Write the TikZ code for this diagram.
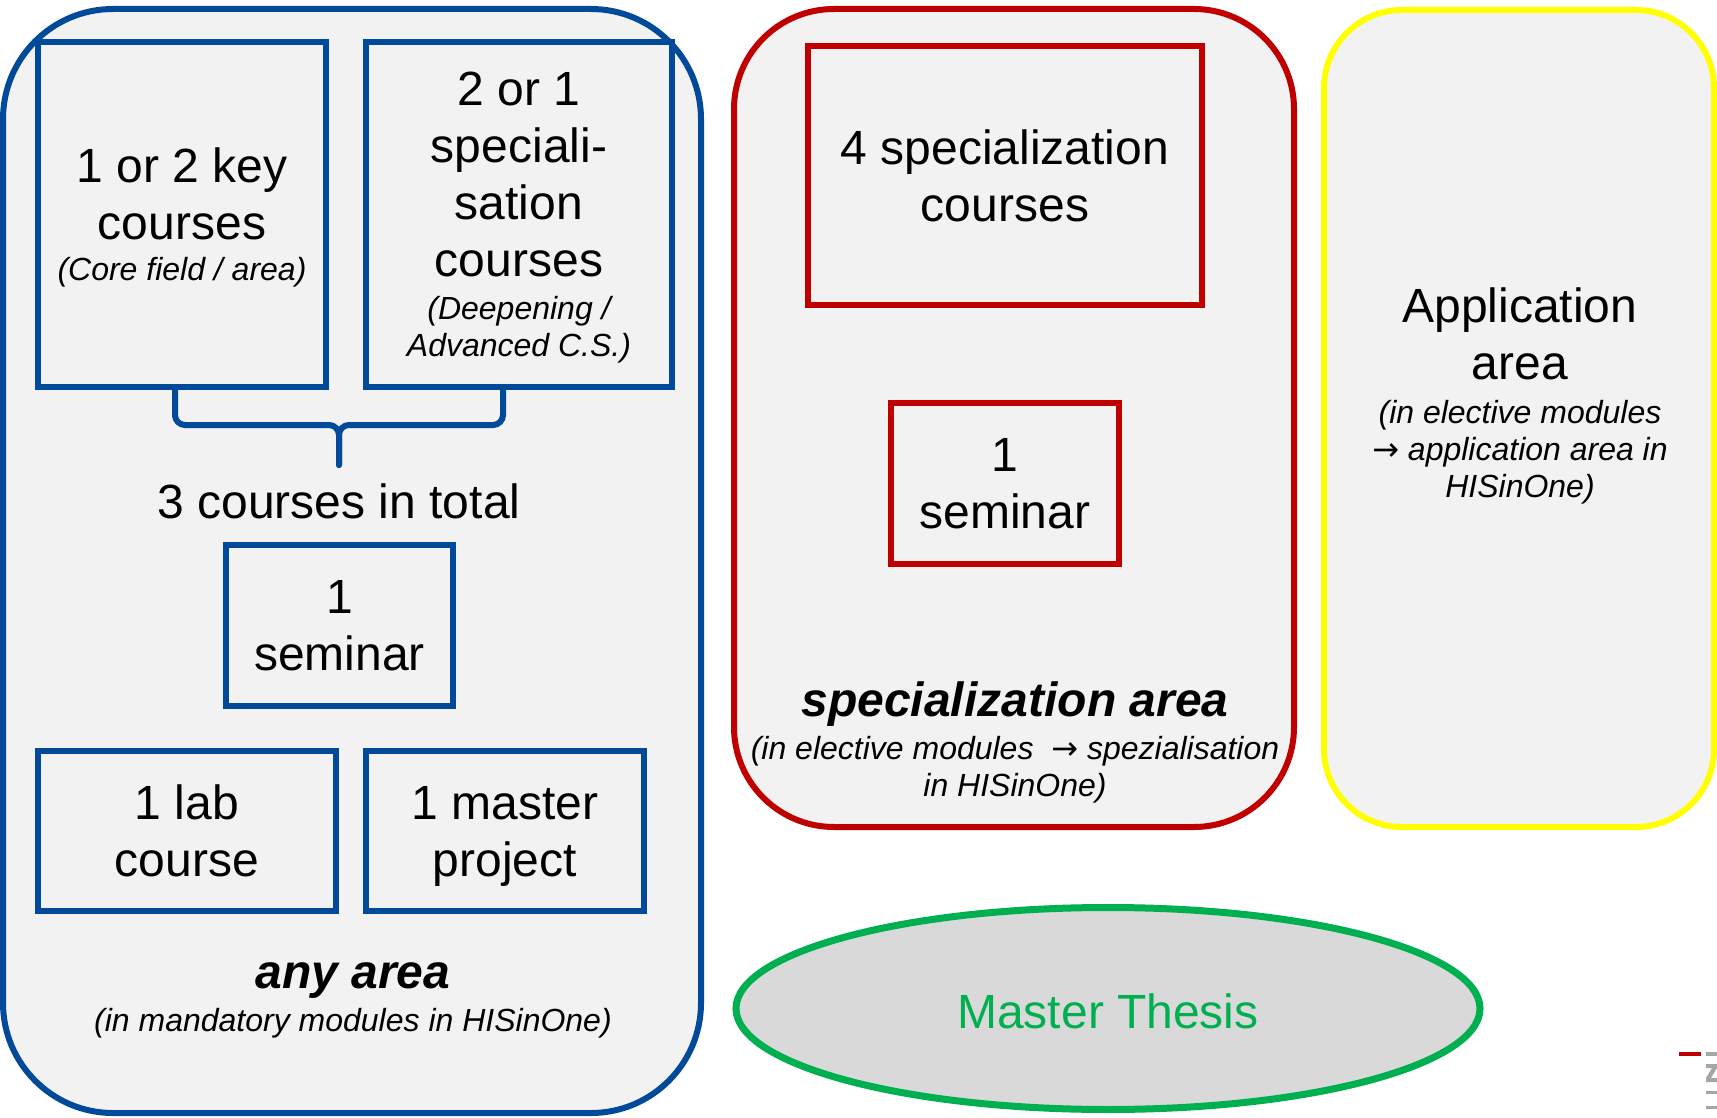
\documentclass[tikz,border=0pt]{standalone}
\usepackage{fontspec}
\setmainfont{Liberation Sans}
\newfontfamily\arrowfont{DejaVu Sans}
\usetikzlibrary{shapes.geometric}
\definecolor{uniblue}{HTML}{004A99}
\definecolor{unired}{HTML}{C00000}
\definecolor{uniyellow}{HTML}{FFFF00}
\definecolor{unigreen}{HTML}{00B050}
\definecolor{boxfill}{HTML}{F2F2F2}
\definecolor{thesisfill}{HTML}{D9D9D9}
\definecolor{logogray}{HTML}{A6A6A6}
\newcommand{\txtbig}{\fontsize{48}{57}\selectfont}
\newcommand{\txtsmall}{\fontsize{32}{37}\selectfont\itshape}
\newcommand{\txtbold}{\fontsize{48}{57}\selectfont\bfseries\itshape}
\newcommand{\arr}{{\arrowfont →}}
\begin{document}
\begin{tikzpicture}[x=1pt,y=-1pt,
  every node/.style={inner sep=0pt, outer sep=0pt},
  areabox/.style={draw, line width=6pt, fill=boxfill, rectangle},
  coursebox/.style={draw, line width=6pt, fill=boxfill, rectangle, align=center, font=\txtbig},
  bluebox/.style={coursebox, draw=uniblue},
  redbox/.style={coursebox, draw=unired},
  label/.style={align=center, font=\txtsmall},
  bracestyle/.style={draw=uniblue, line width=6pt, rounded corners=10pt, line cap=round}
]
\useasboundingbox (0,0) rectangle (1717,1118);

% area frames
\node[areabox, draw=uniblue, rounded corners=110pt, minimum width=698pt, minimum height=1104pt] (anyframe) at (352,561) {};
\node[areabox, draw=unired, rounded corners=100pt, minimum width=560pt, minimum height=818pt] (specframe) at (1014,418) {};
\node[areabox, draw=uniyellow, rounded corners=78pt, minimum width=390pt, minimum height=817pt] (appframe) at (1519,418.5) {};

% any area
\node[bluebox, minimum width=288pt, minimum height=345pt, text depth=-12.5pt] (key) at (182,214.5)
  {1 or 2 key\\courses\\[-16pt]\txtsmall (Core field / area)};
\node[bluebox, minimum width=306pt, minimum height=345pt, text depth=-6pt] (deep) at (519,214.5)
  {2 or 1\\speciali-\\sation\\courses\\[-14pt]\txtsmall (Deepening /\\[-20pt]\txtsmall Advanced C.S.)};
\coordinate (bj) at (339,425);
\coordinate (btip) at (339,465);
\draw[bracestyle] ([xshift=-7pt]key.south) |- (bj) -- (btip);
\draw[bracestyle] ([xshift=-16pt]deep.south) |- (bj) -- (btip);
\node[font=\txtbig] (total) at (339,501) {3 courses in total};
\node[bluebox, minimum width=227pt, minimum height=161pt, text depth=-4.5pt] (sem1) at (339.5,625.5) {1\\seminar};
\node[bluebox, minimum width=298pt, minimum height=160pt, text depth=-4.5pt] (lab) at (187,831) {1 lab\\course};
\node[bluebox, minimum width=278pt, minimum height=160pt, text depth=-4.5pt] (proj) at (505,831) {1 master\\project};
\node[label] (anylabel) at (353,1000.5)
  {{\txtbold any area}\\[6.5pt](in mandatory modules in HISinOne)};

% specialization area
\node[redbox, minimum width=394pt, minimum height=259pt] (spec4) at (1005,175.5) {4 specialization\\courses};
\node[redbox, minimum width=228pt, minimum height=161pt, text depth=-4.5pt] (sem2) at (1005,483.5) {1\\seminar};
\node[label] (speclabel) at (1015,742.5)
  {{\txtbold specialization area}\\[6pt](in elective modules \ \arr\ spezialisation\\in HISinOne)};

% application area
\node[align=center, font=\txtbig] (applabel) at (1520,396)
  {Application\\area\\[-13pt]\txtsmall (in elective modules\\[-20pt]\txtsmall \arr\ application area in\\[-20pt]\txtsmall HISinOne)};

% master thesis
\node[ellipse, draw=unigreen, line width=7pt, fill=thesisfill, minimum width=744pt, minimum height=202pt,
  font=\txtbig, text=unigreen, text height=41pt] (thesis) at (1108,1008.5) {Master Thesis};

% logo fragment
\fill[unired] (1679,1052) rectangle (1701,1056);
\fill[logogray] (1706,1052) rectangle (1717,1056);
\fill[logogray] (1706,1064) -- (1717,1064) -- (1717,1068) -- (1711,1078) -- (1717,1078) -- (1717,1082)
  -- (1706,1082) -- (1706,1078) -- (1712,1068) -- (1706,1068) -- cycle;
\fill[logogray] (1706,1091) rectangle (1717,1094);
\fill[logogray] (1706,1106) rectangle (1717,1109);
\end{tikzpicture}
\end{document}
